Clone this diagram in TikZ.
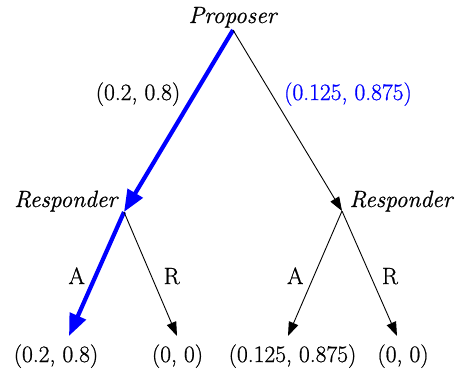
\documentclass[tikz,border=0pt]{standalone}
\usepackage{fontspec}
\setmainfont{Latin Modern Roman}[FakeBold=0.8]
\usetikzlibrary{arrows.meta}
\begin{document}
\begin{tikzpicture}[x=1bp, y=-1bp,
    lbl/.style={font=\fontsize{23.5bp}{28bp}\selectfont, inner sep=0pt, anchor=base},
    player/.style={lbl, font=\fontsize{23.5bp}{28bp}\selectfont\itshape},
    move/.style={-{Triangle[length=14bp, width=10bp]}, line width=0.9bp},
    chosen/.style={-{Triangle[length=22bp, width=17bp]}, line width=4.2bp, blue}]
    \useasboundingbox (0,0) rectangle (457,375);

    % decision points and outcomes
    \coordinate (root) at (233,30);
    \coordinate (respL) at (124,212);
    \coordinate (respR) at (342,211);
    \coordinate (outAA) at (69,336);
    \coordinate (outAR) at (177,336);
    \coordinate (outBA) at (288,336);
    \coordinate (outBR) at (397,336);

    % players
    \node[player] (prop) at (232.5,23) {Proposer};
    \node[player] (rspL) at (65.7,207) {Responder};
    \node[player] (rspR) at (401,207) {Responder};

    % offers
    \draw[chosen] (root) -- (respL);
    \draw[move] (root) -- (respR);
    \node[lbl] (offA) at (138,100) {(0.2, 0.8)};
    \node[lbl, blue] (offB) at (348,100) {(0.125, 0.875)};

    % answers
    \draw[chosen] (respL) -- (outAA);
    \draw[move] (respL) -- (outAR);
    \draw[move] (respR) -- (outBA);
    \draw[move] (respR) -- (outBR);
    \node[lbl] (accL) at (76.7,284) {A};
    \node[lbl] (rejL) at (171.7,284) {R};
    \node[lbl] (accR) at (295.3,284) {A};
    \node[lbl] (rejR) at (390,284) {R};

    % payoffs
    \node[lbl] (payAA) at (56,362) {(0.2, 0.8)};
    \node[lbl] (payAR) at (177.5,362) {(0, 0)};
    \node[lbl] (payBA) at (292.5,362) {(0.125, 0.875)};
    \node[lbl] (payBR) at (403,362) {(0, 0)};
\end{tikzpicture}
\end{document}
